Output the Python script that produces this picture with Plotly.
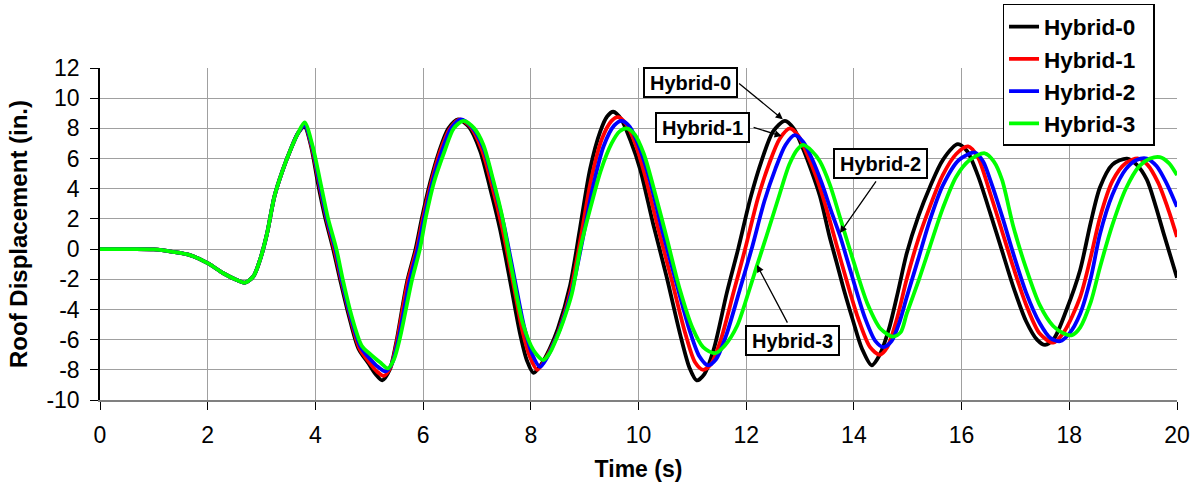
import plotly.graph_objects as go

# ---- data ----
# common initial segment (all four records overlap)
t_common = [0, 0.5, 1.0, 1.35, 1.67, 2.0, 2.29, 2.54, 2.69, 2.85, 2.97, 3.1, 3.24, 3.39, 3.54, 3.68]
v_common = [0, 0, -0.02, -0.18, -0.4, -0.93, -1.6, -2.05, -2.23, -1.8, -0.73, 1.0, 3.5, 5.2, 6.6, 7.7]

t_h0 = [3.8, 3.92, 4.05, 4.18, 4.33, 4.47, 4.62, 4.8, 4.99, 5.12, 5.24,
        5.38, 5.5, 5.7, 5.86, 5.98, 6.13, 6.3, 6.47, 6.65,
        6.85, 7.06, 7.24, 7.43, 7.61, 7.8, 7.93, 8.05,
        8.2, 8.35, 8.5, 8.73, 8.91, 9.1, 9.29, 9.42, 9.53,
        9.68, 9.85, 10.03, 10.27, 10.52, 10.77, 10.95, 11.08,
        11.22, 11.4, 11.64, 11.85, 12.08, 12.29, 12.5, 12.72,
        12.88, 13.05, 13.2, 13.37, 13.55, 13.68, 13.83, 13.98, 14.15, 14.33,
        14.48, 14.65, 14.82, 14.98, 15.2, 15.41, 15.65, 15.93,
        16.1, 16.3, 16.53, 16.75, 16.96, 17.2, 17.4, 17.55,
        17.72, 17.95, 18.2, 18.4, 18.57, 18.8, 19.07,
        19.25, 19.44, 19.6, 19.75, 20.0]
v_h0 = [8.1, 6.8, 4.3, 2.1, 0, -2.2, -4.4, -6.6, -7.6, -8.3, -8.7,
        -8.0, -6.2, -2.2, 0, 2.1, 4.4, 6.5, 8.0, 8.6,
        8.1, 6.5, 4.1, 1.3, -2.0, -5.6, -7.4, -8.2,
        -7.6, -6.6, -5.3, -2.4, 1.3, 5.3, 7.8, 8.8, 9.1,
        8.6, 7.2, 5.3, 1.7, -1.8, -5.6, -7.9, -8.7,
        -8.3, -6.6, -2.9, 0, 3.4, 5.9, 7.8, 8.5,
        8.0, 6.7, 5.3, 3.5, 0.8, -0.9, -2.9, -4.7, -6.6, -7.7,
        -7.0, -5.3, -2.8, -0.3, 2.2, 4.1, 5.9, 6.95,
        6.5, 4.9, 2.4, -0.1, -2.5, -4.8, -6.0, -6.35,
        -5.9, -4.0, -1.4, 1.8, 4.1, 5.6, 6.0,
        5.6, 4.6, 2.9, 1.06, -1.9]

t_h1 = [3.8, 3.93, 4.07, 4.2, 4.35, 4.49, 4.64, 4.82, 5.0, 5.14, 5.27,
        5.4, 5.52, 5.72, 5.88, 6.0, 6.15, 6.32, 6.5, 6.68,
        6.88, 7.09, 7.28, 7.47, 7.66, 7.85, 7.99, 8.12,
        8.27, 8.4, 8.52, 8.75, 8.93, 9.12, 9.32, 9.5, 9.62,
        9.77, 9.95, 10.12, 10.37, 10.62, 10.87, 11.05, 11.2,
        11.35, 11.53, 11.77, 11.98, 12.22, 12.42, 12.62, 12.81,
        12.97, 13.13, 13.3, 13.48, 13.77, 14.08, 14.3, 14.48,
        14.62, 14.8, 14.98, 15.2, 15.41, 15.65, 15.9, 16.12,
        16.3, 16.53, 16.75, 16.96, 17.2, 17.45, 17.7,
        17.9, 18.2, 18.4, 18.57, 18.8, 19.05, 19.28,
        19.45, 19.65, 19.85, 20.0]
v_h1 = [8.2, 6.8, 4.3, 2.1, 0, -2.2, -4.4, -6.6, -7.5, -8.1, -8.4,
        -7.8, -6.0, -2.1, 0, 2.1, 4.4, 6.5, 8.0, 8.6,
        8.1, 6.6, 4.2, 1.4, -2.0, -5.5, -7.2, -8.0,
        -7.3, -6.4, -5.4, -2.6, 0.8, 4.6, 7.3, 8.5, 8.75,
        8.3, 6.9, 4.9, 1.3, -2.1, -5.6, -7.5, -8.0,
        -7.6, -6.0, -2.8, 0, 3.4, 5.6, 7.3, 8.0,
        7.5, 6.3, 4.8, 2.8, -0.9, -4.6, -6.5, -7.0,
        -6.5, -4.6, -2.0, 0.7, 2.8, 4.9, 6.3, 6.8,
        6.1, 3.7, 1.2, -1.2, -3.7, -5.6, -6.2,
        -5.5, -3.2, -0.5, 2.1, 4.5, 5.7, 6.0,
        5.6, 4.4, 2.5, 0.8]

t_h2 = [3.8, 3.94, 4.08, 4.21, 4.37, 4.5, 4.65, 4.84, 5.02, 5.16, 5.3,
        5.42, 5.54, 5.75, 5.9, 6.02, 6.17, 6.35, 6.52, 6.7,
        6.9, 7.12, 7.31, 7.5, 7.69, 7.88, 8.03, 8.17,
        8.3, 8.42, 8.54, 8.76, 8.95, 9.14, 9.35, 9.55, 9.69,
        9.84, 10.02, 10.2, 10.45, 10.7, 10.95, 11.13, 11.29,
        11.44, 11.63, 11.88, 12.1, 12.34, 12.54, 12.73, 12.9,
        13.06, 13.22, 13.4, 13.58, 13.74, 13.9, 14.2, 14.4, 14.55,
        14.7, 14.85, 14.98, 15.2, 15.41, 15.65, 15.95, 16.25,
        16.4, 16.53, 16.75, 16.96, 17.2, 17.45, 17.65, 17.83,
        18.0, 18.2, 18.4, 18.57, 18.8, 19.05, 19.25, 19.44,
        19.62, 19.8, 20.0]
v_h2 = [8.2, 6.8, 4.3, 2.1, 0, -2.2, -4.4, -6.5, -7.3, -7.8, -8.1,
        -7.6, -6.0, -2.1, 0, 2.1, 4.4, 6.5, 8.0, 8.6,
        8.1, 6.7, 4.3, 1.6, -1.8, -5.2, -7.0, -7.8,
        -7.2, -6.3, -5.3, -2.8, 0.4, 3.9, 6.8, 8.2, 8.5,
        8.1, 6.7, 4.7, 1.1, -2.2, -5.4, -7.1, -7.7,
        -7.3, -5.7, -2.7, 0, 3.2, 5.3, 6.9, 7.55,
        7.1, 6.0, 4.4, 2.5, 0.9, -1.0, -4.5, -6.1, -6.5,
        -6.1, -4.8, -3.2, -0.6, 1.9, 4.2, 5.9, 6.4,
        5.8, 4.6, 2.2, -0.3, -2.9, -4.9, -5.9, -6.1,
        -5.6, -4.3, -1.9, 1.0, 3.6, 5.3, 5.9, 6.0,
        5.5, 4.4, 2.8]

t_h3 = [3.8, 3.95, 4.1, 4.23, 4.39, 4.52, 4.67, 4.86, 5.03, 5.2, 5.35,
        5.46, 5.57, 5.79, 5.94, 6.05, 6.2, 6.4, 6.57, 6.75,
        6.95, 7.12, 7.3, 7.46, 7.64, 7.85, 8.05, 8.23,
        8.35, 8.48, 8.6, 8.76, 8.93, 9.12, 9.3, 9.5, 9.65, 9.78,
        9.93, 10.1, 10.3, 10.52, 10.77, 11.0, 11.2, 11.42,
        11.6, 11.83, 12.04, 12.2, 12.38, 12.6, 12.8, 12.95, 13.06,
        13.22, 13.37, 13.55, 13.75, 14.0, 14.25, 14.5, 14.73,
        14.87, 14.98, 15.2, 15.41, 15.65, 15.9, 16.15, 16.43,
        16.6, 16.75, 16.96, 17.2, 17.45, 17.7, 17.9, 18.05,
        18.2, 18.4, 18.57, 18.8, 19.05, 19.3, 19.5, 19.68,
        19.85, 20.0]
v_h3 = [8.4, 6.8, 4.3, 2.1, 0, -2.2, -4.4, -6.4, -7.0, -7.5, -7.9,
        -7.3, -5.9, -2.1, 0, 2.1, 4.4, 6.5, 8.0, 8.5,
        8.0, 6.9, 4.6, 2.3, -1.2, -4.9, -6.7, -7.35,
        -6.9, -5.9, -4.8, -3.0, 0.2, 2.9, 5.2, 7.0, 7.8, 8.0,
        7.6, 6.3, 3.8, 0.8, -2.7, -5.2, -6.5, -6.9,
        -6.4, -5.1, -2.9, -1.1, 0.9, 3.4, 5.6, 6.6, 6.9,
        6.5, 5.8, 4.3, 2.0, -0.9, -3.6, -5.3, -5.8,
        -5.5, -4.3, -2.1, 0.15, 2.7, 4.8, 5.9, 6.35,
        5.8, 4.6, 1.5, -1.3, -3.7, -5.1, -5.6, -5.7,
        -5.2, -3.5, -1.2, 1.6, 4.0, 5.5, 6.0, 6.1,
        5.7, 4.9]

names = ["Hybrid-0", "Hybrid-1", "Hybrid-2", "Hybrid-3"]
colors = ["#000000", "#FF0000", "#0000FF", "#00FF00"]
times = [t_h0, t_h1, t_h2, t_h3]
values = [v_h0, v_h1, v_h2, v_h3]

x_ticks = list(range(0, 21, 2))
y_ticks = list(range(-10, 13, 2))

# annotation boxes: (label, box centre x, box centre y, arrow tail x, tail y, head x, head y)
callouts = [
    ("Hybrid-0", 10.97, 11.03, 11.84, 11.06, 12.68, 8.6),
    ("Hybrid-1", 11.19, 8.09, 12.11, 8.09, 12.66, 7.49),
    ("Hybrid-2", 14.50, 5.67, 14.43, 4.58, 13.74, 1.06),
    ("Hybrid-3", 12.86, -6.06, 12.78, -4.97, 12.20, -1.06),
]

FONT = "Liberation Sans, Arial, sans-serif"

fig = go.Figure()
for name, col, tt, vv in zip(names, colors, times, values):
    fig.add_trace(go.Scatter(
        x=t_common + tt, y=v_common + vv, mode="lines", name=name + "\u00a0\u00a0",
        line=dict(color=col, width=3.8, shape="spline", smoothing=0.8),
    ))

for label, bx, by, tx, ty, hx, hy in callouts:
    fig.add_annotation(
        x=hx, y=hy, ax=tx, ay=ty, xref="x", yref="y", axref="x", ayref="y",
        text="", showarrow=True, arrowhead=2, arrowsize=1.1, arrowwidth=1.3,
        arrowcolor="black", standoff=0,
    )
    fig.add_annotation(
        x=bx, y=by, xref="x", yref="y", text=label, showarrow=False,
        font=dict(family=FONT, size=20, color="black", weight="bold"),
        bgcolor="white", bordercolor="black", borderwidth=2, borderpad=0,
        width=91, height=27,
    )

fig.update_layout(
    width=1194, height=486,
    margin=dict(l=100, r=17, t=68, b=86, autoexpand=False),
    paper_bgcolor="white", plot_bgcolor="white",
    font=dict(family=FONT, color="black"),
    showlegend=True,
    legend=dict(
        x=0.838, y=1.193, xanchor="left", yanchor="top",
        bgcolor="white", bordercolor="black", borderwidth=1.5,
        font=dict(family=FONT, size=22.5, color="black", weight="bold"),
        tracegroupgap=0,
    ),
)
fig.update_xaxes(
    range=[0, 20], tickvals=x_ticks, ticktext=[str(v) for v in x_ticks],
    showgrid=True, gridcolor="#A0A0A0", gridwidth=1,
    showline=True, linecolor="#808080", linewidth=1.5,
    ticks="outside", ticklen=8, tickcolor="black", tickwidth=1,
    tickfont=dict(family=FONT, size=23, color="black"), ticklabelstandoff=6,
    title=dict(text="Time (s)", font=dict(family=FONT, size=23, color="black", weight="bold"), standoff=14),
    zeroline=False, automargin=False,
)
fig.update_yaxes(
    range=[-10, 12], tickvals=y_ticks, ticktext=[str(v) for v in y_ticks],
    showgrid=True, gridcolor="#A0A0A0", gridwidth=1,
    showline=True, linecolor="black", linewidth=1.5,
    ticks="outside", ticklen=8, tickcolor="black", tickwidth=1,
    tickfont=dict(family=FONT, size=23, color="black"), ticklabelstandoff=6,
    title=dict(text="Roof Displacement (in.)", font=dict(family=FONT, size=24, color="black", weight="bold"), standoff=12),
    zeroline=False, automargin=False,
)

fig.write_html("out.html")
